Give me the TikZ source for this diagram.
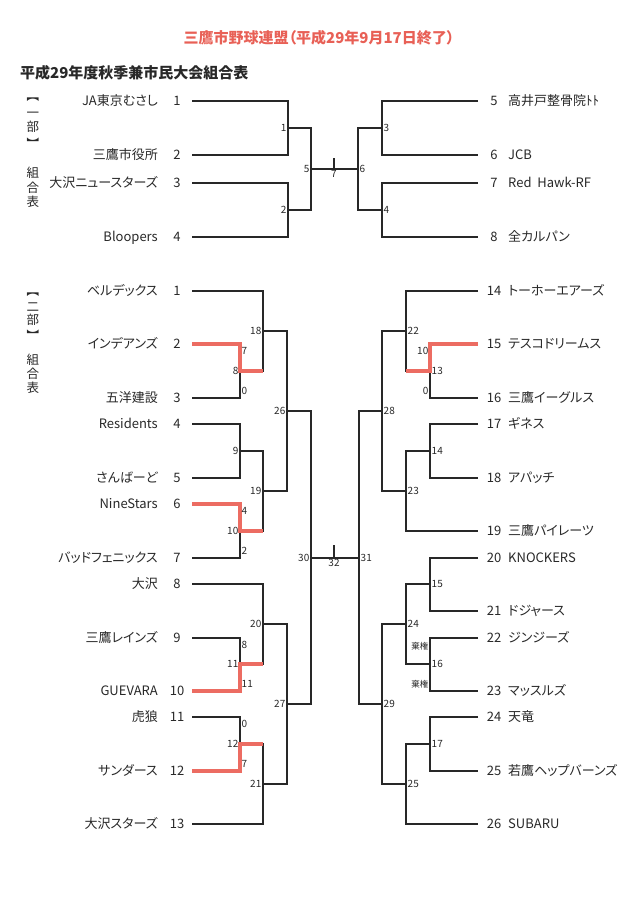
\documentclass[tikz,border=0pt]{standalone}
\usepackage{fontspec}
\setmainfont{Noto Sans CJK JP}[RawFeature=+palt]
\usepackage{graphicx}
\usepackage{xcolor}
\usepackage{tikz}
\usetikzlibrary{positioning}

\definecolor{inkgray}{RGB}{40,40,40}
\definecolor{wonred}{RGB}{236,108,98}
\definecolor{titlered}{RGB}{232,96,86}

\newcommand{\brtop}{\rotatebox[origin=c]{-90}{【}}
\newcommand{\brbot}{\rotatebox[origin=c]{-90}{】}}

\tikzset{
  team/.style={font=\fontsize{13}{15}\selectfont, text=inkgray, inner sep=0pt, text height=11pt, text depth=1.5pt},
  seed/.style={team, anchor=center},
  game/.style={font=\fontsize{10}{11}\selectfont, text=inkgray, inner sep=1.5pt},
  side/.style={text=inkgray, align=center, inner sep=0pt},
  wire/.style={draw=inkgray, line width=1.1pt},
  won/.style={draw=wonred, line width=4pt},
}

\begin{document}
\begin{tikzpicture}[x=1pt, y=-1pt]
  \useasboundingbox (0,0) rectangle (629,915);

  \node[font=\bfseries\fontsize{15}{18}\selectfont, text=titlered] (ttl) at (319,38) {三鷹市野球連盟（平成29年9月17日終了）};
  \node[anchor=west, inner sep=0pt, text=inkgray, font=\bfseries\fontsize{15}{17}\selectfont] (sub) at (20,73) {平成29年度秋季兼市民大会組合表};

  \node[side, font=\fontsize{12.5}{14.3}\selectfont] (bu1) at (33,120.5) {\brtop\\一\\部\\\brbot};
  \node[side, font=\fontsize{12.5}{14.5}\selectfont] (hy1) at (33,187.5) {組\\合\\表};
  \node[side, font=\fontsize{12.5}{12.9}\selectfont] (bu2) at (33,314) {\brtop\\二\\部\\\brbot};
  \node[side, font=\fontsize{12.5}{14}\selectfont] (hy2) at (33,374) {組\\合\\表};

  % ichibu
  \coordinate (a1) at (192,101); \coordinate (a2) at (192,155);
  \coordinate (a3) at (192,183); \coordinate (a4) at (192,237);
  \coordinate (b5) at (478,101); \coordinate (b6) at (478,155);
  \coordinate (b7) at (478,183); \coordinate (b8) at (478,237);
  \coordinate (g1) at (288,128); \coordinate (g2) at (288,210);
  \coordinate (g5) at (311,169); \coordinate (g6) at (358,169);
  \coordinate (g3) at (382,128); \coordinate (g4) at (382,210);
  \coordinate (t7) at (334,169); \coordinate (t7a) at (334,158);

  \node[team, anchor=east] (na1) at (158,101) {JA東京むさし};
  \node[team, anchor=east] (na2) at (158,155) {三鷹市役所};
  \node[team, anchor=east] (na3) at (158,183) {大沢ニュースターズ};
  \node[team, anchor=east] (na4) at (158,237) {Bloopers};
  \node[seed] (sa1) at (177,101) {1};
  \node[seed] (sa2) at (177,155) {2};
  \node[seed] (sa3) at (177,183) {3};
  \node[seed] (sa4) at (177,237) {4};
  \node[seed] (sb5) at (494,101) {5};
  \node[seed] (sb6) at (494,155) {6};
  \node[seed] (sb7) at (494,183) {7};
  \node[seed] (sb8) at (494,237) {8};
  \node[team, anchor=west] (nb5) at (508,101) {高井戸整骨院ﾄﾄ};
  \node[team, anchor=west] (nb6) at (508,155) {JCB};
  \node[team, anchor=west] (nb7) at (508,183) {Red\ \ Hawk-RF};
  \node[team, anchor=west] (nb8) at (508,237) {全カルパン};

  \draw[wire] (a1) -| (g1) |- (a2);
  \draw[wire] (a3) -| (g2) |- (a4);
  \draw[wire] (g1) -| (g5) |- (g2);
  \draw[wire] (b5) -| (g3) |- (b6);
  \draw[wire] (b7) -| (g4) |- (b8);
  \draw[wire] (g3) -| (g6) |- (g4);
  \draw[wire] (g5) -- (g6);
  \draw[wire] (t7) -- (t7a);

  \node[game, anchor=east] (k1) at (g1) {1};
  \node[game, anchor=east] (k2) at (g2) {2};
  \node[game, anchor=east] (k5) at (g5) {5};
  \node[game, anchor=west] (k3) at (g3) {3};
  \node[game, anchor=west] (k4) at (g4) {4};
  \node[game, anchor=west] (k6) at (g6) {6};
  \node[game, below=0pt of t7] (k7) {7};

  % nibu
  \coordinate (l1) at (192,291); \coordinate (l2) at (192,344);
  \coordinate (l3) at (192,398); \coordinate (l4) at (192,424);
  \coordinate (l5) at (192,478); \coordinate (l6) at (192,504);
  \coordinate (l7) at (192,558); \coordinate (l8) at (192,584);
  \coordinate (l9) at (192,638); \coordinate (l10) at (192,691);
  \coordinate (l11) at (192,717); \coordinate (l12) at (192,771);
  \coordinate (l13) at (192,824);
  \coordinate (r14) at (478,291); \coordinate (r15) at (478,344);
  \coordinate (r16) at (478,398); \coordinate (r17) at (478,424);
  \coordinate (r18) at (478,478); \coordinate (r19) at (478,531);
  \coordinate (r20) at (478,558); \coordinate (r21) at (478,611);
  \coordinate (r22) at (478,638); \coordinate (r23) at (478,691);
  \coordinate (r24) at (478,717); \coordinate (r25) at (478,771);
  \coordinate (r26) at (478,824);

  \coordinate (m8) at (240,371); \coordinate (m9) at (240,451);
  \coordinate (m10) at (240,531); \coordinate (m11) at (240,664);
  \coordinate (m12) at (240,744);
  \coordinate (m18) at (263,331); \coordinate (m19) at (263,491);
  \coordinate (m20) at (263,624); \coordinate (m21) at (263,784);
  \coordinate (m26) at (287,411); \coordinate (m27) at (287,704);
  \coordinate (m30) at (311,558);
  \coordinate (n13) at (430,371); \coordinate (n14) at (430,451);
  \coordinate (n15) at (430,584); \coordinate (n16) at (430,664);
  \coordinate (n17) at (430,744);
  \coordinate (n22) at (406,331); \coordinate (n23) at (406,491);
  \coordinate (n24) at (406,624); \coordinate (n25) at (406,784);
  \coordinate (n28) at (382,411); \coordinate (n29) at (382,704);
  \coordinate (n31) at (359,558);
  \coordinate (t32) at (334,558); \coordinate (t32a) at (334,545);

  \node[team, anchor=east] (nl1) at (158,291) {ベルデックス};
  \node[team, anchor=east] (nl2) at (158,344) {インデアンズ};
  \node[team, anchor=east] (nl3) at (158,398) {五洋建設};
  \node[team, anchor=east] (nl4) at (158,424) {Residents};
  \node[team, anchor=east] (nl5) at (158,478) {さんばーど};
  \node[team, anchor=east] (nl6) at (158,504) {NineStars};
  \node[team, anchor=east] (nl7) at (158,558) {バッドフェニックス};
  \node[team, anchor=east] (nl8) at (158,584) {大沢};
  \node[team, anchor=east] (nl9) at (158,638) {三鷹レインズ};
  \node[team, anchor=east] (nl10) at (158,691) {GUEVARA};
  \node[team, anchor=east] (nl11) at (158,717) {虎狼};
  \node[team, anchor=east] (nl12) at (158,771) {サンダース};
  \node[team, anchor=east] (nl13) at (158,824) {大沢スターズ};
  \node[seed] (sl1) at (177,291) {1};
  \node[seed] (sl2) at (177,344) {2};
  \node[seed] (sl3) at (177,398) {3};
  \node[seed] (sl4) at (177,424) {4};
  \node[seed] (sl5) at (177,478) {5};
  \node[seed] (sl6) at (177,504) {6};
  \node[seed] (sl7) at (177,558) {7};
  \node[seed] (sl8) at (177,584) {8};
  \node[seed] (sl9) at (177,638) {9};
  \node[seed] (sl10) at (177,691) {10};
  \node[seed] (sl11) at (177,717) {11};
  \node[seed] (sl12) at (177,771) {12};
  \node[seed] (sl13) at (177,824) {13};

  \node[seed] (sr14) at (494,291) {14};
  \node[seed] (sr15) at (494,344) {15};
  \node[seed] (sr16) at (494,398) {16};
  \node[seed] (sr17) at (494,424) {17};
  \node[seed] (sr18) at (494,478) {18};
  \node[seed] (sr19) at (494,531) {19};
  \node[seed] (sr20) at (494,558) {20};
  \node[seed] (sr21) at (494,611) {21};
  \node[seed] (sr22) at (494,638) {22};
  \node[seed] (sr23) at (494,691) {23};
  \node[seed] (sr24) at (494,717) {24};
  \node[seed] (sr25) at (494,771) {25};
  \node[seed] (sr26) at (494,824) {26};
  \node[team, anchor=west] (nr14) at (508,291) {トーホーエアーズ};
  \node[team, anchor=west] (nr15) at (508,344) {テスコドリームス};
  \node[team, anchor=west] (nr16) at (508,398) {三鷹イーグルス};
  \node[team, anchor=west] (nr17) at (508,424) {ギネス};
  \node[team, anchor=west] (nr18) at (508,478) {アパッチ};
  \node[team, anchor=west] (nr19) at (508,531) {三鷹パイレーツ};
  \node[team, anchor=west] (nr20) at (508,558) {KNOCKERS};
  \node[team, anchor=west] (nr21) at (508,611) {ドジャース};
  \node[team, anchor=west] (nr22) at (508,638) {ジンジーズ};
  \node[team, anchor=west] (nr23) at (508,691) {マッスルズ};
  \node[team, anchor=west] (nr24) at (508,717) {天竜};
  \node[team, anchor=west] (nr25) at (508,771) {若鷹ヘップバーンズ};
  \node[team, anchor=west] (nr26) at (508,824) {SUBARU};

  \draw[wire] (l2) -| (m8) |- (l3);
  \draw[wire] (l1) -| (m18) |- (m8);
  \draw[wire] (l4) -| (m9) |- (l5);
  \draw[wire] (l6) -| (m10) |- (l7);
  \draw[wire] (m9) -| (m19) |- (m10);
  \draw[wire] (m18) -| (m26) |- (m19);
  \draw[wire] (l9) -| (m11) |- (l10);
  \draw[wire] (l8) -| (m20) |- (m11);
  \draw[wire] (l11) -| (m12) |- (l12);
  \draw[wire] (m12) -| (m21) |- (l13);
  \draw[wire] (m20) -| (m27) |- (m21);
  \draw[wire] (m26) -| (m30) |- (m27);

  \draw[wire] (r15) -| (n13) |- (r16);
  \draw[wire] (r14) -| (n22) |- (n13);
  \draw[wire] (r17) -| (n14) |- (r18);
  \draw[wire] (n14) -| (n23) |- (r19);
  \draw[wire] (n22) -| (n28) |- (n23);
  \draw[wire] (r20) -| (n15) |- (r21);
  \draw[wire] (r22) -| (n16) |- (r23);
  \draw[wire] (n15) -| (n24) |- (n16);
  \draw[wire] (r24) -| (n17) |- (r25);
  \draw[wire] (n17) -| (n25) |- (r26);
  \draw[wire] (n24) -| (n29) |- (n25);
  \draw[wire] (n28) -| (n31) |- (n29);

  \draw[wire] (m30) -- (n31);
  \draw[wire] (t32) -- (t32a);

  \draw[won] (l2) -| (m8) -- (m8 -| m18);
  \draw[won] (l6) -| (m10) -- (m10 -| m19);
  \draw[won] (l10) -| (m11) -- (m11 -| m20);
  \draw[won] (l12) -| (m12) -- (m12 -| m21);
  \draw[won] (r15) -| (n13) -- (n13 -| n22);

  \node[game, anchor=east] (k8) at (m8) {8};
  \node[game, anchor=east] (k9) at (m9) {9};
  \node[game, anchor=east] (k10) at (m10) {10};
  \node[game, anchor=east] (k11) at (m11) {11};
  \node[game, anchor=east] (k12) at (m12) {12};
  \node[game, anchor=east] (k18) at (m18) {18};
  \node[game, anchor=east] (k19) at (m19) {19};
  \node[game, anchor=east] (k20) at (m20) {20};
  \node[game, anchor=east] (k21) at (m21) {21};
  \node[game, anchor=east] (k26) at (m26) {26};
  \node[game, anchor=east] (k27) at (m27) {27};
  \node[game, anchor=east] (k30) at (m30) {30};
  \node[game, anchor=west] (k13) at (n13) {13};
  \node[game, anchor=west] (k14) at (n14) {14};
  \node[game, anchor=west] (k15) at (n15) {15};
  \node[game, anchor=west] (k16) at (n16) {16};
  \node[game, anchor=west] (k17) at (n17) {17};
  \node[game, anchor=west] (k22) at (n22) {22};
  \node[game, anchor=west] (k23) at (n23) {23};
  \node[game, anchor=west] (k24) at (n24) {24};
  \node[game, anchor=west] (k25) at (n25) {25};
  \node[game, anchor=west] (k28) at (n28) {28};
  \node[game, anchor=west] (k29) at (n29) {29};
  \node[game, anchor=west] (k31) at (n31) {31};
  \node[game, below=0pt of t32] (k32) {32};

  \node[game, anchor=west] (p2) at (240,351) {7};
  \node[game, anchor=west] (p3) at (240,391) {0};
  \node[game, anchor=west] (p6) at (240,511) {4};
  \node[game, anchor=west] (p7) at (240,551) {2};
  \node[game, anchor=west] (p9) at (240,645) {8};
  \node[game, anchor=west] (p10) at (240,684) {11};
  \node[game, anchor=west] (p11) at (240,724) {0};
  \node[game, anchor=west] (p12) at (240,764) {7};
  \node[game, anchor=east] (p15) at (430,351) {10};
  \node[game, anchor=east] (p16) at (430,391) {0};
  \node[game, anchor=east, font=\fontsize{8.5}{10}\selectfont] (p22) at (430,646) {棄権};
  \node[game, anchor=east, font=\fontsize{8.5}{10}\selectfont] (p23) at (430,684) {棄権};
\end{tikzpicture}
\end{document}
